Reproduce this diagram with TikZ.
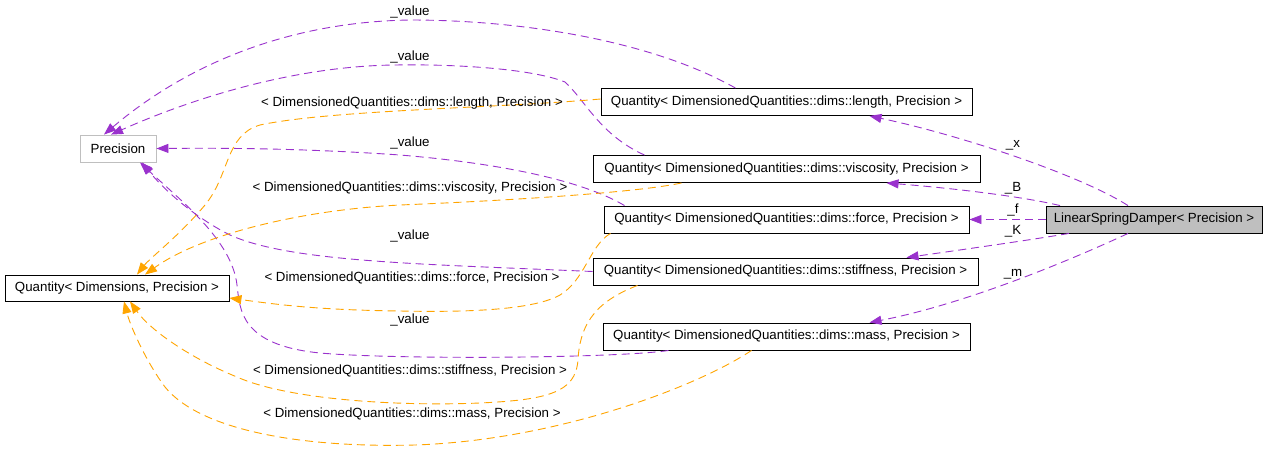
\documentclass[tikz,border=0pt]{standalone}
\usepackage{fontspec}
\setmainfont{Liberation Sans}
\usetikzlibrary{arrows.meta}
\definecolor{edgepurple}{HTML}{9A32CD}
\definecolor{edgeorange}{HTML}{FFA500}
\definecolor{boxgray}{HTML}{BFBFBF}
\begin{document}
\begin{tikzpicture}[x=1pt,y=-1pt,
  every node/.style={font=\fontsize{13.3}{15}\selectfont, inner sep=0pt},
  cls/.style={draw=black, line width=0.9pt, minimum height=27pt, fill=white},
  memb/.style={draw=edgepurple, line width=0.9pt, dash pattern=on 8pt off 5pt, -{Triangle[length=12pt,width=9pt]}},
  tmpl/.style={draw=edgeorange, line width=0.9pt, dash pattern=on 8pt off 5pt, -{Triangle[length=12pt,width=9pt]}, edgeorange},
  lbl/.style={text=black}
]
\useasboundingbox (0,0) rectangle (1267,448);
\fill[white] (0,0) rectangle (1267,448);

% nodes
\node[cls, draw=boxgray, minimum width=76pt] (prec) at (118,148.5) {Precision};
\node[cls, minimum width=224pt, minimum height=26pt] (qdp) at (117,288) {Quantity< Dimensions, Precision >};
\node[cls, minimum width=371pt] (len) at (786.5,102) {Quantity< DimensionedQuantities::dims::length, Precision >};
\node[cls, minimum width=387pt] (visc) at (786.5,169) {Quantity< DimensionedQuantities::dims::viscosity, Precision >};
\node[cls, minimum width=365pt] (force) at (786.5,219.5) {Quantity< DimensionedQuantities::dims::force, Precision >};
\node[cls, minimum width=385pt] (stiff) at (785.5,271.5) {Quantity< DimensionedQuantities::dims::stiffness, Precision >};
\node[cls, minimum width=367pt] (mass) at (786.5,336.5) {Quantity< DimensionedQuantities::dims::mass, Precision >};
\node[cls, fill=boxgray, minimum width=216pt] (lsd) at (1154,219.5) {LinearSpringDamper< Precision >};

% member edges from LinearSpringDamper
\draw[memb] ([xshift=-26pt]lsd.north) .. controls (1080,175) and (960,135) .. ([xshift=83pt]len.south);
\draw[memb] ([xshift=-94pt]lsd.north) .. controls (1020,196) and (950,188) .. ([xshift=100pt]visc.south);
\draw[memb] (lsd.west) -- (force.east);
\draw[memb] ([xshift=-85pt]lsd.south) .. controls (1030,240) and (960,250) .. ([xshift=121pt]stiff.north);
\draw[memb] ([xshift=-26pt]lsd.south) .. controls (1060,265) and (960,305) .. ([xshift=83pt]mass.north);

% _value edges to Precision
\draw[memb] ([xshift=-51pt]len.north) .. controls (650,40) and (520,20) .. (410,20) .. controls (280,22) and (180,70) .. ([xshift=-14pt]prec.north);
\draw[memb] ([xshift=-142pt]visc.north) .. controls (600,135) and (585,100) .. (565,82) .. controls (530,68) and (450,64) .. (395,65) .. controls (300,66) and (200,95) .. ([xshift=-7pt]prec.north);
\draw[memb] ([xshift=-162pt]force.north) .. controls (590,185) and (520,165) .. (400,155) .. controls (300,148) and (220,148) .. (prec.east);
\draw[memb] (stiff.west) .. controls (420,264) and (290,262) .. (230,235) .. controls (190,215) and (160,185) .. ([xshift=24pt]prec.south);
\draw[memb] ([xshift=-118pt]mass.south) .. controls (620,358) and (400,360) .. (320,353) .. controls (240,345) and (240,310) .. (237,285) .. controls (232,240) and (180,200) .. ([xshift=22pt]prec.south);

% template edges to Quantity< Dimensions, Precision >
\draw[tmpl] ([yshift=3pt]len.west) .. controls (500,108) and (330,110) .. (260,125) .. controls (225,135) and (230,175) .. (205,205) .. controls (180,235) and (150,258) .. ([xshift=20pt]qdp.north);
\draw[tmpl] ([xshift=-105pt]visc.south) .. controls (640,192) and (520,200) .. (400,205) .. controls (300,210) and (200,235) .. ([xshift=28pt]qdp.north);
\draw[tmpl] ([xshift=-176pt]force.south) .. controls (590,245) and (585,280) .. (560,295) .. controls (530,312) and (450,312) .. (400,311) .. controls (320,310) and (280,305) .. ([yshift=-10pt]qdp.east);
\draw[tmpl] ([xshift=-148pt]stiff.south) .. controls (600,300) and (580,320) .. (578,360) .. controls (576,385) and (560,395) .. (520,400) .. controls (450,408) and (300,405) .. (237,377) .. controls (190,358) and (150,330) .. ([xshift=13pt]qdp.south);
\draw[tmpl] ([xshift=-35pt]mass.south) .. controls (700,385) and (560,440) .. (415,445) .. controls (300,448) and (200,430) .. (165,387) .. controls (145,360) and (130,325) .. ([xshift=7pt]qdp.south);

% labels
\node[lbl] (lx) at (1013,145) {\_x};
\node[lbl] (lB) at (1013,188) {\_B};
\node[lbl] (lf) at (1013,210) {\_f};
\node[lbl] (lK) at (1013,231) {\_K};
\node[lbl] (lm) at (1013,274) {\_m};
\node[lbl] (v1) at (410,12) {\_value};
\node[lbl] (v2) at (410,57) {\_value};
\node[lbl] (v3) at (410,143) {\_value};
\node[lbl] (v4) at (410,236) {\_value};
\node[lbl] (v5) at (410,320) {\_value};
\node[lbl] (t1) at (412,103) {< DimensionedQuantities::dims::length, Precision >};
\node[lbl] (t2) at (410,188) {< DimensionedQuantities::dims::viscosity, Precision >};
\node[lbl] (t3) at (412,278) {< DimensionedQuantities::dims::force, Precision >};
\node[lbl] (t4) at (410,371) {< DimensionedQuantities::dims::stiffness, Precision >};
\node[lbl] (t5) at (412,414) {< DimensionedQuantities::dims::mass, Precision >};
\end{tikzpicture}
\end{document}
